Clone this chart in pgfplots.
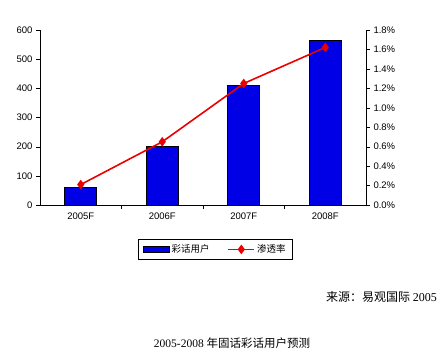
\documentclass[border=0pt]{standalone}
\usepackage{fontspec}
\setmainfont{Liberation Sans}
\newfontfamily\cjk{Noto Sans CJK SC}
\newfontfamily\serif{Liberation Serif}
\usepackage{pgfplots}
\pgfplotsset{compat=1.18}
\definecolor{barblue}{RGB}{0,0,230}
\definecolor{linered}{RGB}{235,0,0}
\begin{document}
\begin{tikzpicture}[x=1pt,y=1pt]
\useasboundingbox (0,0) rectangle (439,355);
\begin{axis}[at={(40pt,150pt)}, anchor=south west, scale only axis,
  width=326pt, height=175pt,
  xmin=-0.5, xmax=3.5, ymin=0, ymax=600,
  ytick={0,100,200,300,400,500,600},
  axis x line*=bottom, axis y line*=left, axis line style={-, black},
  xtick={0,1,2,3}, xticklabels={2005F,2006F,2007F,2008F},
  major x tick style={draw=none},
  minor xtick={0.5,1.5,2.5},
  tick align=outside, major tick length=4pt, minor tick length=4pt,
  tick style={black},
  ticklabel style={font=\fontsize{9.5}{10}\selectfont},
  /pgf/number format/assume math mode=true,
  ybar, bar width=32pt, clip=false]
\addplot[fill=barblue, draw=black, line width=0.6pt] coordinates {(0,60) (1,200) (2,410) (3,565)};
\end{axis}
\begin{axis}[at={(40pt,150pt)}, anchor=south west, scale only axis,
  width=326pt, height=175pt,
  xmin=-0.5, xmax=3.5, ymin=0, ymax=1.8,
  axis x line=none, axis y line*=right, axis line style={-, black},
  ytick={0,0.2,0.4,0.6,0.8,1.0,1.2,1.4,1.6,1.8},
  yticklabels={0.0\%,0.2\%,0.4\%,0.6\%,0.8\%,1.0\%,1.2\%,1.4\%,1.6\%,1.8\%},
  tick align=outside, major tick length=4pt, tick style={black},
  ticklabel style={font=\fontsize{9.5}{10}\selectfont},
  clip=false,
  legend columns=2,
  legend style={at={(0.538,-0.254)}, anchor=center, draw=black, line width=0.6pt,
    font=\cjk\fontsize{9.5}{11}\selectfont, inner xsep=5pt, inner ysep=3pt,
    /tikz/every even column/.append style={column sep=16pt}},
  legend image code/.code={\draw[#1,mark repeat=2,mark phase=2] plot coordinates {(0pt,0pt) (13pt,0pt) (26pt,0pt)};}]
\addlegendimage{legend image code/.code={\fill[barblue,draw=black,line width=0.4pt] (0pt,-3pt) rectangle (26pt,3pt);}}
\addlegendentry{彩话用户}
\addplot[linered, line width=1.6pt, mark=diamond*, mark size=3.5pt, mark options={fill=linered}] coordinates {(0,0.21) (1,0.65) (2,1.25) (3,1.62)};
\addlegendentry{渗透率}
\end{axis}
\node[anchor=east, inner sep=0] at (437,58) {\cjk\fontsize{12}{14}\selectfont 来源：易观国际\ {\serif 2005}};
\node[anchor=center, inner sep=0] at (232,12) {{\serif\fontsize{11.5}{12}\selectfont 2005-2008} {\cjk\fontsize{11.5}{12}\selectfont 年固话彩话用户预测}};
\end{tikzpicture}
\end{document}
